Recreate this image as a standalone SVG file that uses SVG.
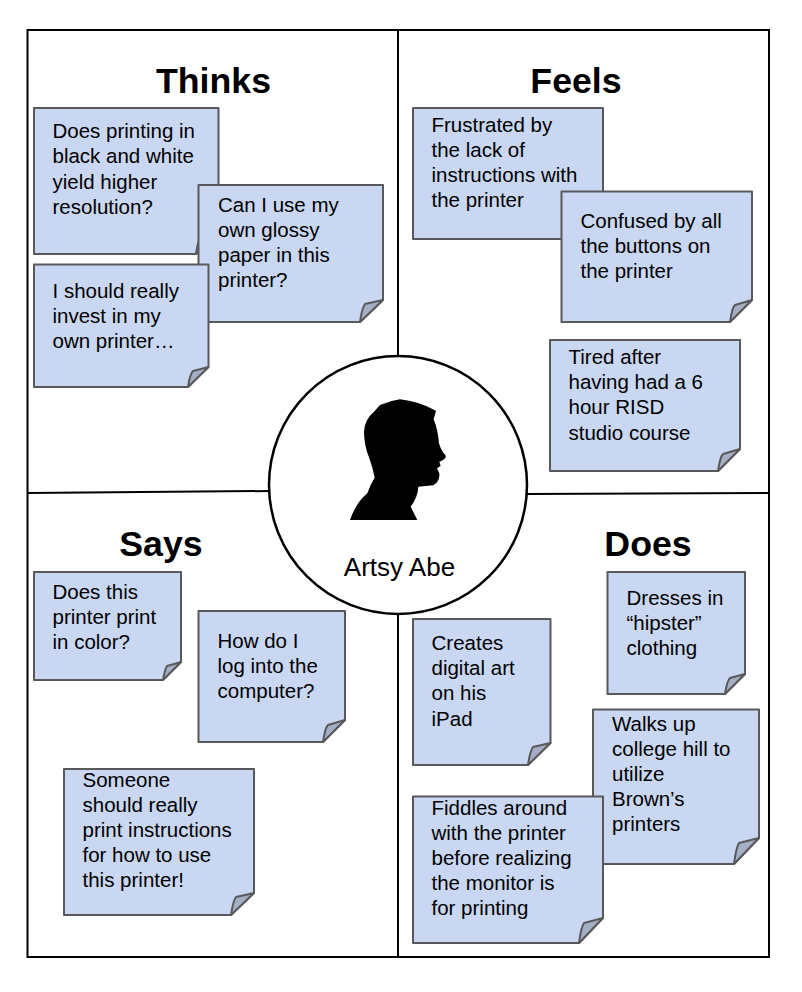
<svg xmlns="http://www.w3.org/2000/svg" width="802" height="992" viewBox="0 0 802 992">
<style>
text{font-family:"Liberation Sans",Arial,sans-serif;fill:#000}
.t{font-size:35.700px;font-weight:bold;text-anchor:middle}
.n{font-size:20.500px}
.b{fill:#c9d7f2;stroke:#595959;stroke-width:2;stroke-linejoin:round}
.f{fill:#a4afc6;stroke:#595959;stroke-width:2;stroke-linejoin:round}
.l{fill:none;stroke:#000;stroke-width:2}
</style>
<rect width="802" height="992" fill="#fff"/>
<g id="connectors">
<rect class="l" x="27.500" y="30" width="741.500" height="927"/>
<path class="l" d="M398 30V356M398 614V957M27.500 493L270 491M526 494L769 493"/>
</g>
<g id="title-thinks"><text class="t" x="213.500" y="93">Thinks</text></g>
<g id="title-feels"><text class="t" x="576" y="93">Feels</text></g>
<g id="title-says"><text class="t" x="161" y="556">Says</text></g>
<g id="title-does"><text class="t" x="648" y="556">Does</text></g>
<g id="note-1"><path class="b" d="M34 108H218.500V232L196 254H34Z"/><path class="f" d="M196 254Q198 240 201 237L218.500 232Z"/><text class="n" x="52.500" y="138">Does printing in</text><text class="n" x="52.500" y="163">black and white</text><text class="n" x="52.500" y="189">yield higher</text><text class="n" x="52.500" y="214">resolution?</text></g>
<g id="note-2"><path class="b" d="M198.500 185H383V300L360 322H198.500Z"/><path class="f" d="M360 322Q362 308 365 304L383 300Z"/><text class="n" x="218" y="212">Can I use my</text><text class="n" x="218" y="237">own glossy</text><text class="n" x="218" y="262">paper in this</text><text class="n" x="218" y="287">printer?</text></g>
<g id="note-3"><path class="b" d="M34 264.500H208.500V367L188 387H34Z"/><path class="f" d="M188 387Q190 374 193 371L208.500 367Z"/><text class="n" x="52.500" y="298">I should really</text><text class="n" x="52.500" y="323">invest in my</text><text class="n" x="52.500" y="348">own printer…</text></g>
<g id="note-4"><path class="b" d="M413 108H603V217L581 239H413Z"/><path class="f" d="M581 239Q583 225 586 222L603 217Z"/><text class="n" x="431.500" y="132">Frustrated by</text><text class="n" x="431.500" y="157">the lack of</text><text class="n" x="431.500" y="182">instructions with</text><text class="n" x="431.500" y="207">the printer</text></g>
<g id="note-5"><path class="b" d="M561.500 191.500H752V300L730 322H561.500Z"/><path class="f" d="M730 322Q732 308 735 305L752 300Z"/><text class="n" x="580.500" y="228">Confused by all</text><text class="n" x="580.500" y="253">the buttons on</text><text class="n" x="580.500" y="278">the printer</text></g>
<g id="note-6"><path class="b" d="M550 340H740V449L718 471H550Z"/><path class="f" d="M718 471Q720 457 723 454L740 449Z"/><text class="n" x="568.500" y="364">Tired after</text><text class="n" x="568.500" y="389">having had a 6</text><text class="n" x="568.500" y="414">hour RISD</text><text class="n" x="568.500" y="440">studio course</text></g>
<g id="note-7"><path class="b" d="M34 572H181V662L163 680H34Z"/><path class="f" d="M163 680Q165 669 167 666L181 662Z"/><text class="n" x="52.500" y="599">Does this</text><text class="n" x="52.500" y="624">printer print</text><text class="n" x="52.500" y="649">in color?</text></g>
<g id="note-8"><path class="b" d="M198.500 611H345V720L323 742H198.500Z"/><path class="f" d="M323 742Q325 728 328 725L345 720Z"/><text class="n" x="217.500" y="648">How do I</text><text class="n" x="217.500" y="673">log into the</text><text class="n" x="217.500" y="698">computer?</text></g>
<g id="note-9"><path class="b" d="M64 769H254V893L231 915H64Z"/><path class="f" d="M231 915Q233 901 236 897L254 893Z"/><text class="n" x="82.500" y="787">Someone</text><text class="n" x="82.500" y="812">should really</text><text class="n" x="82.500" y="837">print instructions</text><text class="n" x="82.500" y="862">for how to use</text><text class="n" x="82.500" y="887">this printer!</text></g>
<g id="note-10"><path class="b" d="M413 619H550.500V743L528 765H413Z"/><path class="f" d="M528 765Q530 751 533 747L550.500 743Z"/><text class="n" x="431.500" y="650">Creates</text><text class="n" x="431.500" y="675">digital art</text><text class="n" x="431.500" y="700">on his</text><text class="n" x="431.500" y="726">iPad</text></g>
<g id="note-11"><path class="b" d="M607.500 572H745V674L725 694H607.500Z"/><path class="f" d="M725 694Q727 681 730 678L745 674Z"/><text class="n" x="626.500" y="605">Dresses in</text><text class="n" x="626.500" y="630">“hipster”</text><text class="n" x="626.500" y="655">clothing</text></g>
<g id="note-12"><path class="b" d="M593 709.500H759V838L734 864H593Z"/><path class="f" d="M734 864Q736 848 739 843L759 838Z"/><text class="n" x="612" y="731">Walks up</text><text class="n" x="612" y="756">college hill to</text><text class="n" x="612" y="781">utilize</text><text class="n" x="612" y="806">Brown’s</text><text class="n" x="612" y="831">printers</text></g>
<g id="note-13"><path class="b" d="M413 796.500H603V918L579 943H413Z"/><path class="f" d="M579 943Q581 927 584 923L603 918Z"/><text class="n" x="431.500" y="815">Fiddles around</text><text class="n" x="431.500" y="840">with the printer</text><text class="n" x="431.500" y="865">before realizing</text><text class="n" x="431.500" y="890">the monitor is</text><text class="n" x="431.500" y="915">for printing</text></g>
<g id="persona">
<circle cx="398" cy="485" r="129" fill="#fff" stroke="#000" stroke-width="2.500"/>
<path transform="translate(340 380) scale(.3333)" fill="#000" d="M30 420Q48 368 82 340Q90 315 104 293Q98 262 88 235Q72 195 72 155Q74 118 102 95L120 75Q150 62 180 58Q235 64 288 92L281 118Q294 150 297 190Q303 212 318 228Q318 238 298 245L302 258L291 265L298 280Q300 305 280 316L235 320Q234 350 212 380L232 420Z"/>
<text x="399.500" y="576" font-size="26" text-anchor="middle">Artsy Abe</text>
</g>
</svg>
